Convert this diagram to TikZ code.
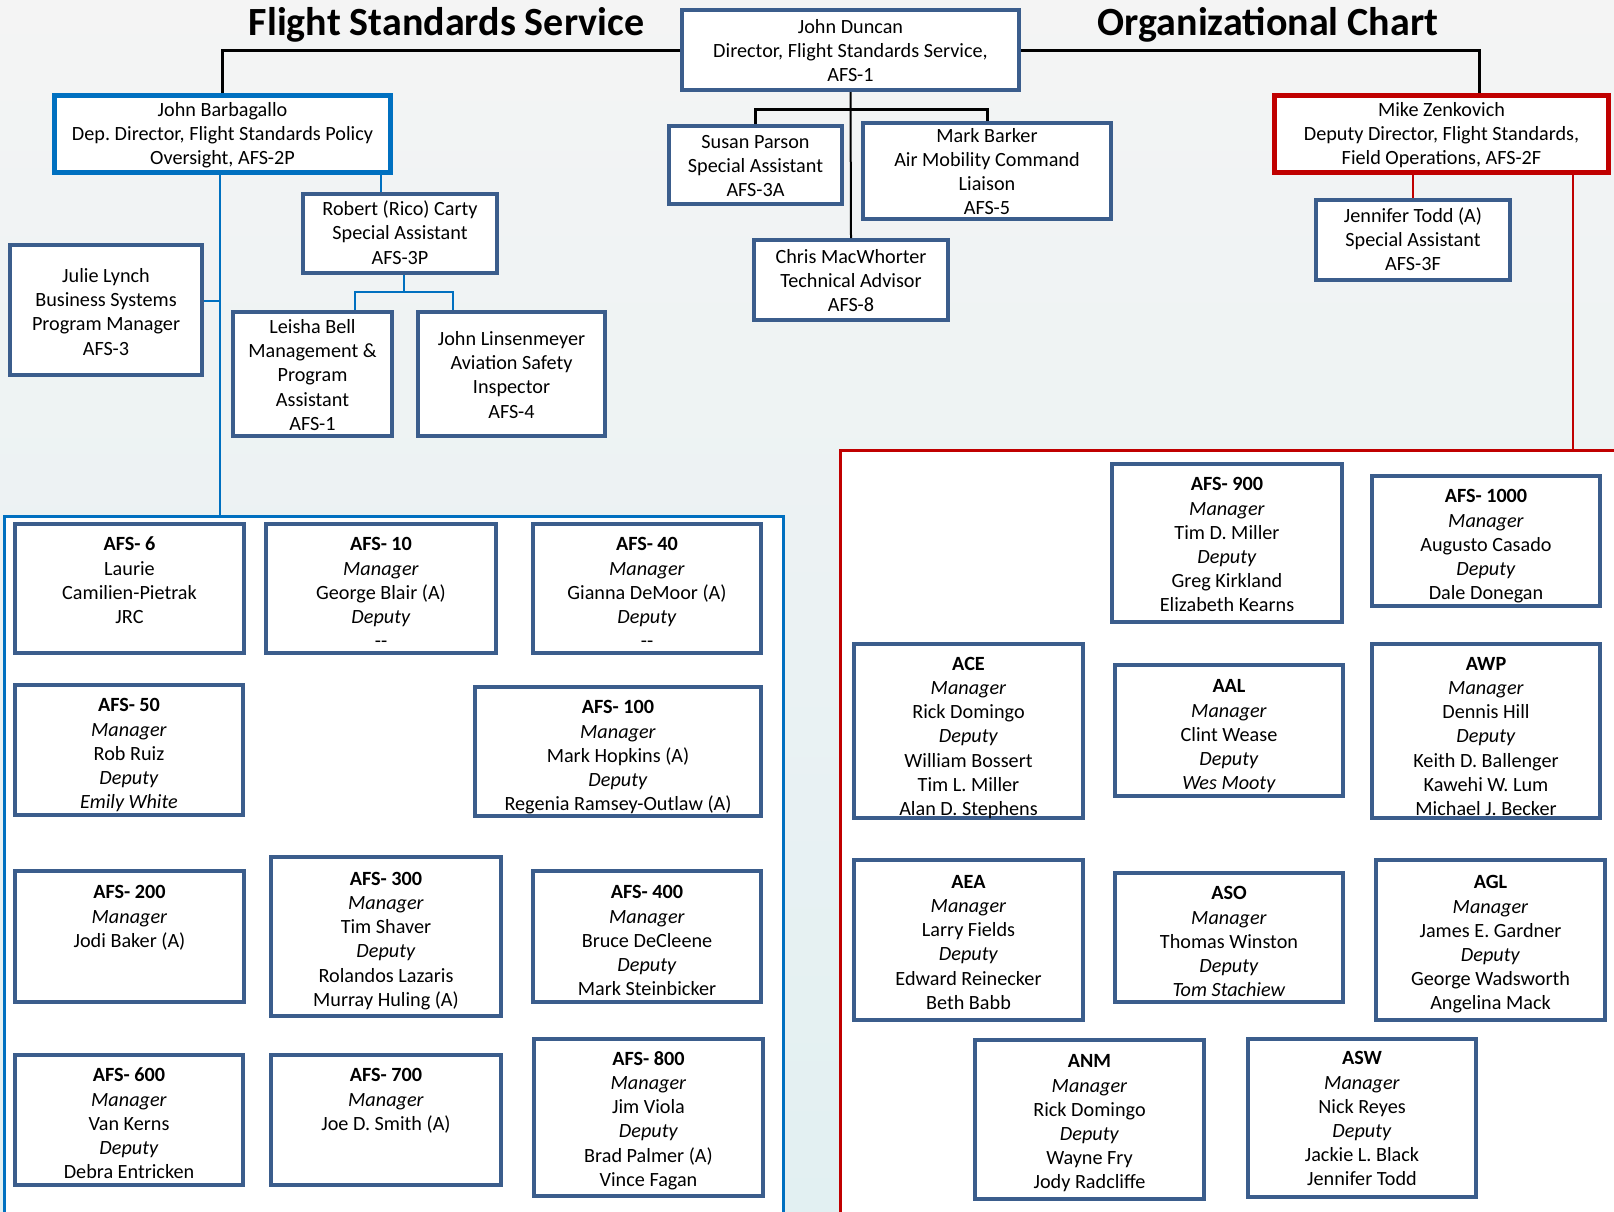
\documentclass[tikz,border=0pt]{standalone}
\usepackage{fontspec}
\setmainfont{Carlito}
\frenchspacing
\definecolor{boxblue}{HTML}{3B5D8C}
\definecolor{hiblue}{HTML}{0070C0}
\definecolor{hired}{HTML}{C00000}
\definecolor{bgtop}{HTML}{F4F4F4}
\definecolor{bgmid}{HTML}{E6E9E9}
\definecolor{bgbot}{HTML}{E2F0F2}
\newcommand{\orgMgr}{\textit{Manager}}
\newcommand{\orgDep}{\textit{Deputy}}
\newcommand{\orgNone}{{-}{-}}
\newcommand{\ob}[2][2.5pt]{\raisebox{-#1}[\height][\depth]{\begin{tabular}{@{}c@{}}#2\end{tabular}}}
\newcommand{\gb}[1]{\ob[6pt]{#1}}
\begin{document}
\begin{tikzpicture}[x=1pt,y=-1pt,
  every node/.style={font=\fontsize{20.2}{24.2}\selectfont, text=black},
  orgbox/.style={draw=boxblue, line width=4pt, fill=white, inner sep=0pt},
  keyblue/.style={orgbox, draw=hiblue, line width=5pt},
  keyred/.style={orgbox, draw=hired, line width=5pt},
  grpblue/.style={draw=hiblue, line width=3pt, fill=white, inner sep=0pt, anchor=north west},
  grpred/.style={draw=hired, line width=3pt, fill=white, inner sep=0pt, anchor=north west},
  conn/.style={draw=black, line width=3pt},
  thinconn/.style={draw=black, line width=2pt},
  bconn/.style={draw=hiblue, line width=2.5pt},
  rconn/.style={draw=hired, line width=2.5pt},
  titletext/.style={anchor=base, font=\fontsize{40}{48}\selectfont\bfseries}
]
\useasboundingbox (0,0) rectangle (1614,1211);
\clip (0,0) rectangle (1614,1211);
\shade[top color=bgtop, middle color=bgmid, bottom color=bgbot] (0,0) rectangle (1614,1211);

% titles
\node[titletext] (t1) at (446.5,35.5) {Flight Standards Service};
\node[titletext] (t2) at (1268,35.5) {Organizational Chart};

% group containers
\node[grpblue, minimum width=779pt, minimum height=760pt] (bgrp) at (2.5,514.5) {};
\node[grpred, minimum width=820pt, minimum height=820pt] (rgrp) at (838.5,448.5) {};

% coordinates for off-centre connectors
\coordinate (zx) at (1479,0);
\coordinate (tx) at (220,0);
\coordinate (rx) at (381,0);
\coordinate (jy) at (0,301);
\coordinate (rtx) at (1573,0);
\coordinate (lx) at (355,0);
\coordinate (nx) at (453,0);
\coordinate (cx) at (404,0);

% top level
\node[orgbox, minimum width=337pt, minimum height=80pt] (dir) at (850.5,50) {\ob{John Duncan\\Director, Flight Standards Service,\\AFS-1}};
\node[keyblue, minimum width=336pt, minimum height=77pt] (barb) at (222.5,134) {\ob[1.5pt]{John Barbagallo\\Dep. Director, Flight Standards Policy\\Oversight, AFS-2P}};
\node[keyred, minimum width=334pt, minimum height=77pt] (zen) at (1441.5,134) {\ob[1.5pt]{Mike Zenkovich\\Deputy Director, Flight Standards,\\Field Operations, AFS-2F}};
\node[orgbox, minimum width=173pt, minimum height=78pt] (susan) at (755.5,165) {\ob{Susan Parson\\Special Assistant\\AFS-3A}};
\node[orgbox, minimum width=248pt, minimum height=92pt] (mark) at (987,171) {\ob{Mark Barker\\Air Mobility Command\\Liaison\\AFS-5}};
\node[orgbox, minimum width=194pt, minimum height=80pt] (chris) at (851,280) {\ob{Chris MacWhorter\\Technical Advisor\\AFS-8}};
\node[orgbox, minimum width=194pt, minimum height=79pt] (robert) at (400,233.5) {\ob[1.5pt]{Robert (Rico) Carty\\Special Assistant\\AFS-3P}};
\node[orgbox, minimum width=192pt, minimum height=130pt] (julie) at (106,310) {\ob[4pt]{Julie Lynch\\Business Systems\\Program Manager\\AFS-3}};
\node[orgbox, minimum width=159pt, minimum height=124pt] (leisha) at (312.5,374) {\ob[3pt]{Leisha Bell\\Management \&\\Program\\Assistant\\AFS-1}};
\node[orgbox, minimum width=187pt, minimum height=124pt] (linsen) at (511.5,374) {\ob[3pt]{John Linsenmeyer\\Aviation Safety\\Inspector\\AFS-4}};
\node[orgbox, minimum width=194pt, minimum height=80pt] (jen) at (1413,240) {\ob[1.5pt]{Jennifer Todd (A)\\Special Assistant\\AFS-3F}};

% top connectors
\draw[conn] (dir.west) -| (barb.north);
\draw[conn] (dir.east) -| (zen.north -| zx);
\draw[thinconn] (dir.south) -- (chris.north);
\draw[conn] (susan.north) -- ++(0,-15) -| (mark.north);
\draw[bconn] (barb.south -| tx) -- (bgrp.north -| tx);
\draw[bconn] (julie.east |- jy) -- (tx |- jy);
\draw[bconn] (barb.south -| rx) -- (robert.north -| rx);
\draw[bconn] (robert.south -| cx) -- ++(0,17) coordinate (rb);
\draw[bconn] (leisha.north -| lx) -- (rb -| lx) -- (rb -| nx) -- (linsen.north -| nx);
\draw[rconn] (zen.south -| jen.north) -- (jen.north);
\draw[rconn] (zen.south -| rtx) -- (rgrp.north -| rtx);

% blue group boxes
\node[orgbox, minimum width=229pt, minimum height=129pt] (afs6) at (129.5,588.5) {\gb{\textbf{AFS- 6}\\Laurie\\Camilien-Pietrak\\JRC\\~}};
\node[orgbox, minimum width=230pt, minimum height=129pt] (afs10) at (381,588.5) {\gb{\textbf{AFS- 10}\\\orgMgr\\George Blair (A)\\\orgDep\\\orgNone}};
\node[orgbox, minimum width=228pt, minimum height=129pt] (afs40) at (647,588.5) {\gb{\textbf{AFS- 40}\\\orgMgr\\Gianna DeMoor (A)\\\orgDep\\\orgNone}};
\node[orgbox, minimum width=228pt, minimum height=130pt] (afs50) at (129,750) {\ob[5.5pt]{\textbf{AFS- 50}\\\orgMgr\\Rob Ruiz\\\orgDep\\\textit{Emily White}}};
\node[orgbox, minimum width=286pt, minimum height=129pt] (afs100) at (618,751.5) {\gb{\textbf{AFS- 100}\\\orgMgr\\Mark Hopkins (A)\\\orgDep\\Regenia Ramsey-Outlaw (A)}};
\node[orgbox, minimum width=229pt, minimum height=131pt] (afs200) at (129.5,936.5) {\gb{\textbf{AFS- 200}\\\orgMgr\\Jodi Baker (A)\\~\\~}};
\node[orgbox, minimum width=230pt, minimum height=159pt] (afs300) at (386,936.5) {\ob[4.5pt]{\textbf{AFS- 300}\\\orgMgr\\Tim Shaver\\\orgDep\\Rolandos Lazaris\\Murray Huling (A)}};
\node[orgbox, minimum width=228pt, minimum height=131pt] (afs400) at (647,936.5) {\gb{\textbf{AFS- 400}\\\orgMgr\\Bruce DeCleene\\\orgDep\\Mark Steinbicker}};
\node[orgbox, minimum width=228pt, minimum height=130pt] (afs600) at (129,1120) {\ob[5.5pt]{\textbf{AFS- 600}\\\orgMgr\\Van Kerns\\\orgDep\\Debra Entricken}};
\node[orgbox, minimum width=230pt, minimum height=130pt] (afs700) at (386,1120) {\ob[5.5pt]{\textbf{AFS- 700}\\\orgMgr\\Joe D. Smith (A)\\~\\~}};
\node[orgbox, minimum width=229pt, minimum height=157pt] (afs800) at (648.5,1117.5) {\ob[3.5pt]{\textbf{AFS- 800}\\\orgMgr\\Jim Viola\\\orgDep\\Brad Palmer (A)\\Vince Fagan}};

% red group boxes
\node[orgbox, minimum width=230pt, minimum height=158pt] (afs900) at (1227,543) {\ob[3.5pt]{\textbf{AFS- 900}\\\orgMgr\\Tim D. Miller\\\orgDep\\Greg Kirkland\\Elizabeth Kearns}};
\node[orgbox, minimum width=228pt, minimum height=130pt] (afs1000) at (1486,541) {\ob[5.5pt]{\textbf{AFS- 1000}\\\orgMgr\\Augusto Casado\\\orgDep\\Dale Donegan}};
\node[orgbox, minimum width=229pt, minimum height=174pt] (ace) at (968.5,731) {\ob[7pt]{\textbf{ACE}\\\orgMgr\\Rick Domingo\\\orgDep\\William Bossert\\Tim L. Miller\\Alan D. Stephens}};
\node[orgbox, minimum width=228pt, minimum height=131pt] (aal) at (1229,730.5) {\gb{\textbf{AAL}\\\orgMgr\\Clint Wease\\\orgDep\\\textit{Wes Mooty}}};
\node[orgbox, minimum width=228pt, minimum height=174pt] (awp) at (1486,731) {\ob[7pt]{\textbf{AWP}\\\orgMgr\\Dennis Hill\\\orgDep\\Keith D. Ballenger\\Kawehi W. Lum\\Michael J. Becker}};
\node[orgbox, minimum width=229pt, minimum height=160pt] (aea) at (968.5,940) {\ob[4pt]{\textbf{AEA}\\\orgMgr\\Larry Fields\\\orgDep\\Edward Reinecker\\Beth Babb}};
\node[orgbox, minimum width=228pt, minimum height=129pt] (aso) at (1229,937.5) {\gb{\textbf{ASO}\\\orgMgr\\Thomas Winston\\\orgDep\\\textit{Tom Stachiew}}};
\node[orgbox, minimum width=229pt, minimum height=160pt] (agl) at (1490.5,940) {\ob[4.5pt]{\textbf{AGL}\\\orgMgr\\James E. Gardner\\\orgDep\\George Wadsworth\\Angelina Mack}};
\node[orgbox, minimum width=229pt, minimum height=159pt] (anm) at (1089.5,1119.5) {\ob[4pt]{\textbf{ANM}\\\orgMgr\\Rick Domingo\\\orgDep\\Wayne Fry\\Jody Radcliffe}};
\node[orgbox, minimum width=228pt, minimum height=158pt] (asw) at (1362,1118) {\ob[2.5pt]{\textbf{ASW}\\\orgMgr\\Nick Reyes\\\orgDep\\Jackie L. Black\\Jennifer Todd}};
\end{tikzpicture}
\end{document}
